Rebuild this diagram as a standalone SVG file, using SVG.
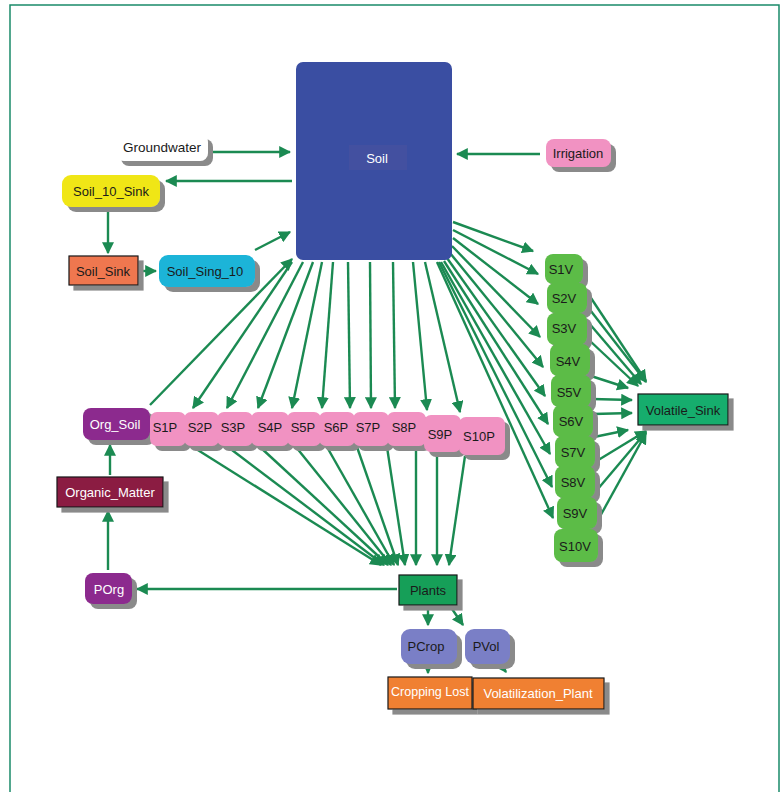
<svg xmlns="http://www.w3.org/2000/svg" width="780" height="792" viewBox="0 0 780 792">
<defs>
<filter id="sh" x="-20%" y="-20%" width="150%" height="160%">
<feFlood flood-color="#8a8a8a"/><feComposite in2="SourceAlpha" operator="in"/><feOffset dx="5" dy="5" result="s"/>
<feMerge><feMergeNode in="s"/><feMergeNode in="SourceGraphic"/></feMerge>
</filter>
<marker id="ah" viewBox="0 0 10 10" refX="9" refY="5" markerWidth="5" markerHeight="5" orient="auto" markerUnits="strokeWidth">
<path d="M0,0 L10,5 L0,10 z" fill="#1b8a52"/>
</marker>
</defs>
<style>
text{font-family:"Liberation Sans",Arial,sans-serif;font-size:13px;text-anchor:middle;dominant-baseline:central;fill:#1a1a1a}
.w{fill:#ffffff}
.c line{stroke:#1b8a52;stroke-width:2.4;marker-end:url(#ah)}
.pk{fill:#f192c2}
.gv{fill:#5cbc47}
.pc{fill:#7a7fc6}
</style>
<rect x="0" y="0" width="780" height="792" fill="#ffffff"/>
<path d="M10,792 V5 H779 V792" fill="none" stroke="#1a8a6a" stroke-width="1.5"/>

<g class="c" id="connectors">
<line x1="213" y1="152" x2="290" y2="152"/>
<line x1="540" y1="154" x2="457" y2="154"/>
<line x1="292" y1="181" x2="166" y2="181"/>
<line x1="108" y1="210" x2="108" y2="253"/>
<line x1="143" y1="271" x2="156" y2="271"/>
<line x1="255" y1="250" x2="290" y2="232"/>
<line x1="150" y1="405" x2="292" y2="259"/>
<!-- soil to S*P -->
<line x1="292" y1="262" x2="193" y2="408"/>
<line x1="303" y1="262" x2="227" y2="408"/>
<line x1="313" y1="262" x2="258" y2="408"/>
<line x1="322" y1="262" x2="292" y2="408"/>
<line x1="333" y1="262" x2="322" y2="408"/>
<line x1="348" y1="262" x2="350" y2="408"/>
<line x1="370" y1="262" x2="371" y2="408"/>
<line x1="393" y1="262" x2="395" y2="408"/>
<line x1="413" y1="262" x2="427" y2="410"/>
<line x1="425" y1="262" x2="460" y2="412"/>
<!-- soil to S*V -->
<line x1="453" y1="222" x2="533" y2="251"/>
<line x1="453" y1="230" x2="538" y2="274"/>
<line x1="453" y1="238" x2="538" y2="304"/>
<line x1="452" y1="246" x2="540" y2="337"/>
<line x1="450" y1="253" x2="543" y2="367"/>
<line x1="447" y1="258" x2="545" y2="396"/>
<line x1="444" y1="261" x2="548" y2="424"/>
<line x1="441" y1="262" x2="550" y2="454"/>
<line x1="439" y1="262" x2="552" y2="487"/>
<line x1="437" y1="262" x2="553" y2="518"/>
<!-- S*P to Plants -->
<line x1="193" y1="447" x2="381" y2="565"/>
<line x1="228" y1="447" x2="384" y2="565"/>
<line x1="260" y1="447" x2="388" y2="565"/>
<line x1="296" y1="447" x2="391" y2="565"/>
<line x1="327" y1="447" x2="394" y2="565"/>
<line x1="357" y1="447" x2="398" y2="565"/>
<line x1="387" y1="447" x2="405" y2="565"/>
<line x1="416" y1="449" x2="416" y2="565"/>
<line x1="437" y1="454" x2="437" y2="565"/>
<line x1="465" y1="456" x2="449" y2="565"/>
<!-- S*V to Volatile_Sink -->
<line x1="587" y1="292" x2="646" y2="381"/>
<line x1="587" y1="306" x2="646" y2="382"/>
<line x1="588" y1="322" x2="641" y2="384"/>
<line x1="589" y1="340" x2="638" y2="386"/>
<line x1="591" y1="376" x2="628" y2="388"/>
<line x1="592" y1="399" x2="632" y2="400"/>
<line x1="593" y1="414" x2="632" y2="413"/>
<line x1="594" y1="437" x2="628" y2="430"/>
<line x1="595" y1="462" x2="646" y2="431"/>
<line x1="597" y1="490" x2="646" y2="432"/>
<line x1="598" y1="520" x2="646" y2="433"/>
<!-- plants and lower -->
<line x1="397" y1="589" x2="137" y2="589"/>
<line x1="108" y1="570" x2="108" y2="511"/>
<line x1="110" y1="475" x2="110" y2="445"/>
<line x1="428" y1="606" x2="428" y2="625"/>
<line x1="450" y1="606" x2="463" y2="625"/>
<line x1="428" y1="664" x2="428" y2="673"/>
<line x1="500" y1="664" x2="506" y2="672"/>
</g>

<g id="soil">
<rect x="296" y="62" width="156" height="198" rx="7" fill="#3a4ea2"/>
<rect x="349" y="145" width="58" height="25" fill="#4350a0"/>
<text x="377" y="158" class="w">Soil</text>
</g>
<g id="groundwater">
<rect x="116" y="134" width="92" height="27" rx="8" fill="#ffffff" filter="url(#sh)"/>
<text x="162" y="147" style="font-size:13.5px">Groundwater</text>
</g>
<g id="irrigation">
<rect x="546" y="139" width="65" height="28" rx="8" class="pk" filter="url(#sh)"/>
<text x="578" y="153">Irrigation</text>
</g>
<g id="soil_10_sink">
<rect x="62" y="175" width="98" height="32" rx="9" fill="#f0e617" filter="url(#sh)"/>
<text x="111" y="191">Soil_10_Sink</text>
</g>
<g id="soil_sink">
<rect x="69" y="256" width="69" height="29" fill="#ef7750" stroke="#1a1a1a" stroke-width="1.2" filter="url(#sh)"/>
<text x="103" y="271">Soil_Sink</text>
</g>
<g id="soil_sing_10">
<rect x="159" y="255" width="96" height="32" rx="9" fill="#1ab4d8" filter="url(#sh)"/>
<text x="205" y="271">Soil_Sing_10</text>
</g>
<g id="org_soil">
<rect x="83" y="408" width="67" height="32" rx="8" fill="#8c2a8e" filter="url(#sh)"/>
<text x="115" y="424" class="w">Org_Soil</text>
</g>
<g id="s1p"><rect x="150" y="412" width="36" height="34" rx="7" class="pk" filter="url(#sh)"/><text x="165" y="427">S1P</text></g>
<g id="s2p"><rect x="184" y="412" width="35" height="34" rx="7" class="pk" filter="url(#sh)"/><text x="200" y="427">S2P</text></g>
<g id="s3p"><rect x="217" y="412" width="36" height="34" rx="7" class="pk" filter="url(#sh)"/><text x="233" y="427">S3P</text></g>
<g id="s4p"><rect x="251" y="412" width="38" height="34" rx="7" class="pk" filter="url(#sh)"/><text x="270" y="427">S4P</text></g>
<g id="s5p"><rect x="287" y="412" width="34" height="34" rx="7" class="pk" filter="url(#sh)"/><text x="303" y="427">S5P</text></g>
<g id="s6p"><rect x="319" y="412" width="36" height="34" rx="7" class="pk" filter="url(#sh)"/><text x="336" y="427">S6P</text></g>
<g id="s7p"><rect x="353" y="412" width="36" height="34" rx="7" class="pk" filter="url(#sh)"/><text x="368" y="427">S7P</text></g>
<g id="s8p"><rect x="387" y="412" width="39" height="34" rx="7" class="pk" filter="url(#sh)"/><text x="404" y="427">S8P</text></g>
<g id="s9p"><rect x="424" y="415" width="37" height="37" rx="7" class="pk" filter="url(#sh)"/><text x="440" y="434">S9P</text></g>
<g id="s10p"><rect x="459" y="417" width="46" height="38" rx="7" class="pk" filter="url(#sh)"/><text x="479" y="436">S10P</text></g>

<g id="s1v"><rect x="545" y="254" width="38" height="30" rx="8" class="gv" filter="url(#sh)"/><text x="561" y="269">S1V</text></g>
<g id="s2v"><rect x="547" y="283" width="40" height="30" rx="8" class="gv" filter="url(#sh)"/><text x="564" y="298">S2V</text></g>
<g id="s3v"><rect x="547" y="313" width="40" height="32" rx="8" class="gv" filter="url(#sh)"/><text x="564" y="328">S3V</text></g>
<g id="s4v"><rect x="550" y="344" width="40" height="32" rx="8" class="gv" filter="url(#sh)"/><text x="568" y="361">S4V</text></g>
<g id="s5v"><rect x="551" y="375" width="40" height="32" rx="8" class="gv" filter="url(#sh)"/><text x="569" y="392">S5V</text></g>
<g id="s6v"><rect x="553" y="405" width="40" height="32" rx="8" class="gv" filter="url(#sh)"/><text x="571" y="421">S6V</text></g>
<g id="s7v"><rect x="555" y="436" width="40" height="32" rx="8" class="gv" filter="url(#sh)"/><text x="573" y="452">S7V</text></g>
<g id="s8v"><rect x="555" y="466" width="40" height="32" rx="8" class="gv" filter="url(#sh)"/><text x="573" y="482">S8V</text></g>
<g id="s9v"><rect x="557" y="497" width="40" height="32" rx="8" class="gv" filter="url(#sh)"/><text x="575" y="513">S9V</text></g>
<g id="s10v"><rect x="554" y="529" width="44" height="33" rx="8" class="gv" filter="url(#sh)"/><text x="575" y="546">S10V</text></g>

<g id="volatile_sink">
<rect x="638" y="394" width="90" height="31" fill="#12ad6d" stroke="#1a1a1a" stroke-width="1.2" filter="url(#sh)"/>
<text x="683" y="410">Volatile_Sink</text>
</g>
<g id="organic_matter">
<rect x="57" y="477" width="106" height="30" fill="#8b1b42" stroke="#1a1a1a" stroke-width="1.2" filter="url(#sh)"/>
<text x="110" y="492" class="w">Organic_Matter</text>
</g>
<g id="porg">
<rect x="85" y="573" width="47" height="31" rx="8" fill="#8c2a8e" filter="url(#sh)"/>
<text x="109" y="589" class="w">POrg</text>
</g>
<g id="plants">
<rect x="399" y="575" width="58" height="30" fill="#129f58" stroke="#1a1a1a" stroke-width="1.2" filter="url(#sh)"/>
<text x="428" y="590">Plants</text>
</g>
<g id="pcrop">
<rect x="401" y="629" width="56" height="35" rx="9" class="pc" filter="url(#sh)"/>
<text x="426" y="646">PCrop</text>
</g>
<g id="pvol">
<rect x="465" y="629" width="45" height="35" rx="9" class="pc" filter="url(#sh)"/>
<text x="486" y="646">PVol</text>
</g>
<g id="cropping_lost">
<rect x="388" y="677" width="84" height="32" fill="#f08030" stroke="#1a1a1a" stroke-width="1.2" filter="url(#sh)"/>
<text x="430" y="692" class="w" style="font-size:12.5px">Cropping Lost</text>
</g>
<g id="volatilization_plant">
<rect x="473" y="678" width="131" height="31" fill="#f08030" stroke="#1a1a1a" stroke-width="1.2" filter="url(#sh)"/>
<text x="538" y="693" class="w">Volatilization_Plant</text>
</g>
</svg>
